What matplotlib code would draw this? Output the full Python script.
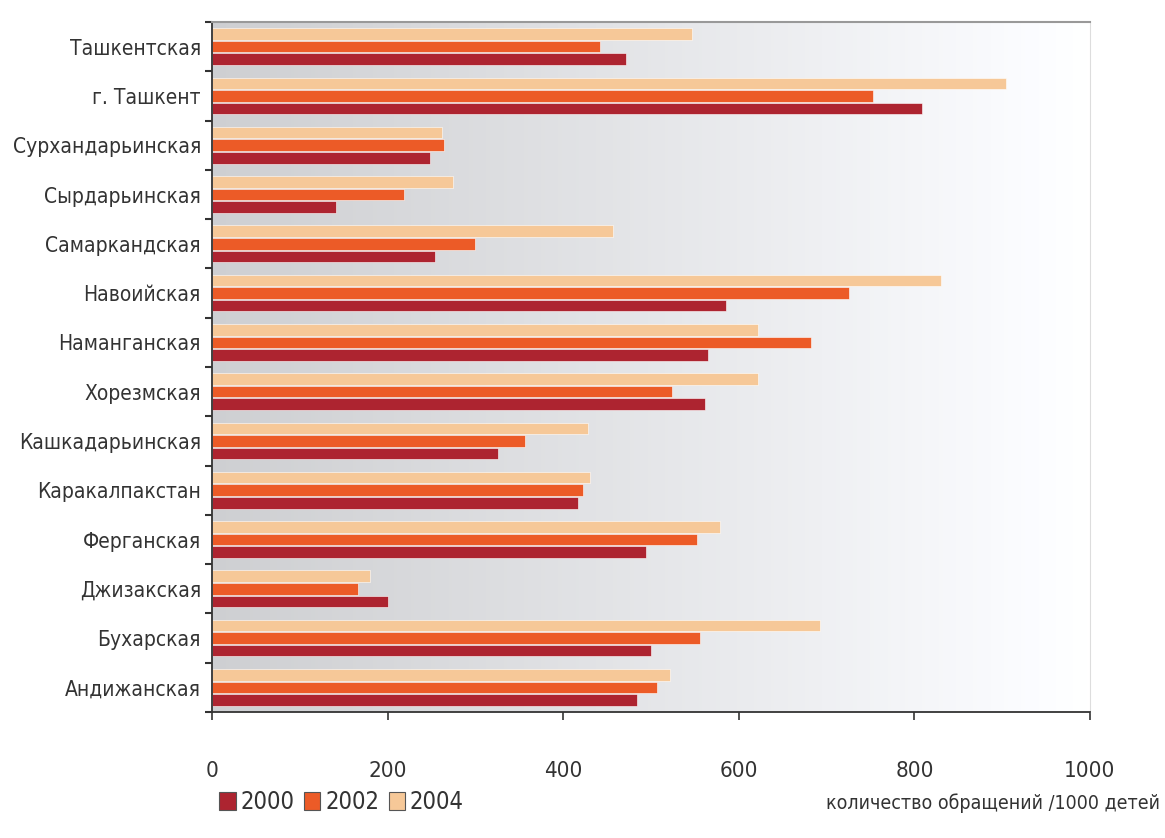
import numpy as np
import matplotlib.pyplot as plt
from matplotlib.patches import Patch

plt.rcParams['font.family'] = ['DejaVu Sans']
plt.rcParams['font.stretch'] = 'condensed'

regions = ['Ташкентская', 'г. Ташкент', 'Сурхандарьинская', 'Сырдарьинская',
           'Самаркандская', 'Навоийская', 'Наманганская', 'Хорезмская',
           'Кашкадарьинская', 'Каракалпакстан', 'Ферганская', 'Джизакская',
           'Бухарская', 'Андижанская']
years = ['2000', '2002', '2004']
v2000 = [472, 809, 248, 141, 254, 585, 565, 562, 326, 417, 494, 200, 500, 484]
v2002 = [442, 753, 264, 219, 300, 725, 682, 524, 357, 423, 552, 166, 556, 507]
v2004 = [547, 904, 262, 275, 457, 830, 622, 622, 428, 430, 579, 180, 693, 522]
colors = ['#ad2430', '#ec5b27', '#f6c898']

fig = plt.figure(figsize=(11.65, 8.38), dpi=100)
ax = fig.add_axes([212 / 1165, 1 - 712 / 838, 878 / 1165, 690 / 838])

n = len(regions)
y = np.arange(n)[::-1]
h = 0.235
step = 0.255

# gradient background
grad = np.linspace(0, 1, 256)
shade = 0.81 + 0.19 * grad ** 1.1
img = np.dstack([shade, shade + 0.004, shade + 0.015])
img = np.clip(img, 0, 1)
ax.imshow(img, extent=[0, 1000, -0.5, n - 0.5], aspect='auto', zorder=0)

for vals, col, off in zip([v2000, v2002, v2004], colors, [-step, 0, step]):
    ax.barh(y + off, vals, height=h, color=col, edgecolor='#ffffff',
            linewidth=0.4, zorder=2)

ax.set_xlim(0, 1000)
ax.set_ylim(-0.5, n - 0.5)
ax.set_xticks([0, 200, 400, 600, 800, 1000])
ax.tick_params(axis='x', length=6, width=1.2, color='#333333', pad=29,
               labelsize=16, labelcolor='#333333')
ax.set_yticks(y)
ax.set_yticklabels(regions)
ax.set_yticks(np.arange(-0.5, n), minor=True)
ax.tick_params(axis='y', which='major', length=0, pad=8, labelsize=15,
               labelcolor='#333333')
ax.tick_params(axis='y', which='minor', length=5, width=1.5, color='#333333')

for s in ['left', 'bottom']:
    ax.spines[s].set_color('#333333')
    ax.spines[s].set_linewidth(1.3)
ax.spines['top'].set_color('#999999')
ax.spines['top'].set_linewidth(1.5)
ax.spines['right'].set_color('#dddddd')
ax.spines['right'].set_linewidth(0.8)

handles = [Patch(facecolor=c, edgecolor='#555555', linewidth=0.8) for c in colors]
fig.legend(handles, years, loc='center left', bbox_to_anchor=(198 / 1165, 1 - 802 / 838),
           ncol=3, frameon=False, fontsize=17, handlelength=0.7, handleheight=0.8,
           handletextpad=0.2, columnspacing=0.4, labelcolor='#333333')
fig.text(1160 / 1165, 1 - 803 / 838, 'количество обращений /1000 детей',
         ha='right', va='center', fontsize=14, color='#333333')

fig.savefig('out.png', dpi=100, facecolor='white')
